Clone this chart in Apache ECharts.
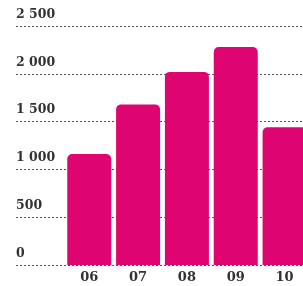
<!DOCTYPE html>
<html>
<head>
<meta charset="utf-8">
<script src="https://cdn.jsdelivr.net/npm/echarts@6/dist/echarts.min.js"></script>
<style>
  html, body { margin: 0; padding: 0; background: #fff; overflow: hidden; }
  /* a bit wider than the window so the last bar is cut off at the edge */
  #main { width: 309px; height: 286px; }
</style>
</head>
<body>
<div id="main"></div>
<script>
  // first slot is empty, leaves room for the y labels
  var months = ['', '06', '07', '08', '09', '10'];
  var values = ['-', 1160, 1680, 2020, 2280, 1440];
  var yTicks = [0, 500, 1000, 1500, 2000, 2500];

  var myChart = echarts.init(document.getElementById('main'));

  function fmt(v) {
    var s = String(v);
    if (s.length > 3) {
      s = s.slice(0, s.length - 3) + ' ' + s.slice(s.length - 3);
    }
    return s;
  }

  myChart.setOption({
    animation: false,
    grid: {
      left: 16,
      right: 0,
      top: 26,
      bottom: 21
    },
    xAxis: {
      type: 'category',
      data: months,
      axisLine: { show: false },
      axisTick: { show: false },
      axisLabel: {
        color: '#333',
        fontFamily: 'DejaVu Serif',
        fontWeight: 'bold',
        fontSize: 13,
        margin: 6
      }
    },
    yAxis: {
      type: 'value',
      min: yTicks[0],
      max: yTicks[yTicks.length - 1],
      interval: 500,
      axisLine: { show: false },
      axisTick: { show: false },
      axisLabel: {
        inside: true,
        margin: 0,
        align: 'left',
        verticalAlign: 'bottom',
        padding: [0, 0, 5, 0],
        color: '#333',
        fontFamily: 'DejaVu Serif',
        fontWeight: 'bold',
        fontSize: 12.5,
        formatter: fmt
      },
      splitLine: {
        lineStyle: {
          color: '#555',
          type: [2, 2],
          width: 1
        }
      }
    },
    series: [{
      type: 'bar',
      data: values,
      barWidth: 44,
      itemStyle: {
        color: '#df0570',
        borderRadius: [5, 5, 0, 0]
      }
    }]
  });
</script>
</body>
</html>
